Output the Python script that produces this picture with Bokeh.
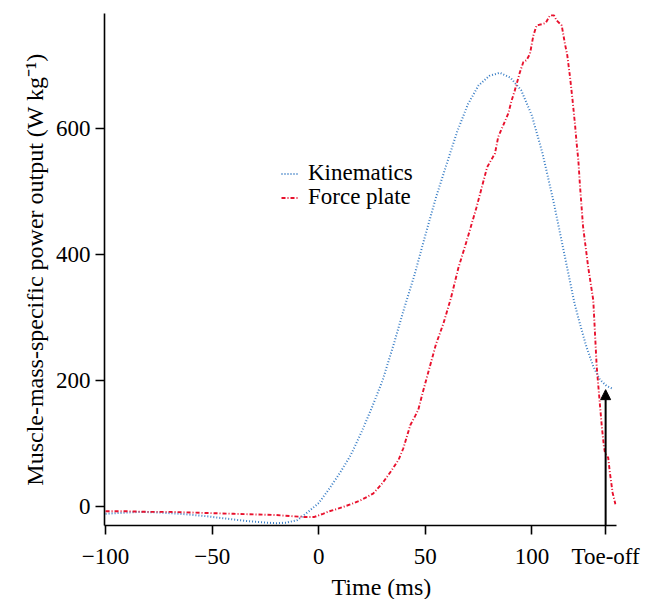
from bokeh.plotting import figure
from bokeh.models import Range1d, FixedTicker, Arrow, NormalHead, Legend, LegendItem, Title
from bokeh.embed import file_html
from bokeh.resources import INLINE

# Kinematics-derived power (time in ms, power in W/kg)
kin_time = [-100, -90, -83, -75, -65, -55, -45, -35, -25, -20, -15, -10, -5, 0,
            5, 10, 15, 20, 25, 30, 35, 40, 45, 50, 55, 60, 65, 70, 75, 80, 85,
            90, 95, 100, 105, 110, 115, 120, 122.5, 125.6, 128.8, 131.9, 135, 138.1]
kin_power = [-12, -10, -9, -10, -12, -15, -19, -23, -26, -27, -26, -22, -9, 5,
             28, 53, 81, 117, 157, 200, 255, 313, 368, 430, 490, 543, 595, 638, 668, 683, 688,
             680, 660, 620, 560, 486, 404, 322, 290, 253, 222, 201, 191, 186]

# Force-plate-derived power
fp_time = [-100, -90, -80, -70, -60, -50, -40, -30, -20, -12, -7, -2, 2, 5, 9, 15, 20,
           25.5, 30, 34, 37.5, 39.7, 41.3, 43, 45.2, 46.7, 49, 52, 55, 58.5, 62, 65.5,
           69.5, 74, 79, 82.7, 84.2, 86.6, 88.9, 90.5, 92, 94.4, 96, 97.5, 99.1, 100.7,
           102.2, 104.6, 106.5, 108.5, 110.4, 111.6, 114, 115.5, 116.6, 117.9, 119.1,
           120.2, 121, 121.8, 122.5, 124, 126.4, 128.8, 129.6, 130.4, 131.2, 132, 132.8,
           133.8, 134.3, 135.8, 136.6, 137.9, 139.2]
fp_power = [-8, -8, -9, -9, -10, -11, -12, -13, -14, -16, -17, -17, -12, -8, -4, 3, 10,
            20, 37, 56, 74, 92, 110, 129, 143, 153, 183, 220, 257, 290, 330, 378,
            422, 474, 538, 560, 586, 605, 623, 644, 660, 689, 705, 708, 718, 747,
            763, 765, 767, 779, 779, 771, 763, 734, 716, 681, 644,
            607, 576, 549, 512, 444, 380, 327, 275, 222, 190, 158, 127,
            95, 85, 77, 53, 21, 3]

series_labels = ["Kinematics", "Force plate"]
x_ticks = [-100, -50, 0, 50, 100]
y_ticks = [0, 200, 400, 600]
toe_off_time = 134.6
toe_off_label = "Toe-off"
toe_off_arrow_top = 185
x_title = "Time (ms)"
y_title = "Muscle-mass-specific power output (W kg\u207b\u00b9)"

FONT = "Liberation Serif"
X_MIN, X_MAX = -100.5, 139.7
Y_MIN, Y_MAX = -30.6, 782

p = figure(width=653, height=599, output_backend="svg", toolbar_location=None,
           x_range=Range1d(X_MIN, X_MAX), y_range=Range1d(Y_MIN, Y_MAX),
           min_border_left=104, min_border_top=13, min_border_right=37, min_border_bottom=73)
p.outline_line_color = None
p.xgrid.grid_line_color = None
p.ygrid.grid_line_color = None
p.background_fill_color = "white"
p.border_fill_color = "white"

r_kin = p.line(kin_time, kin_power, line_color="#3b7fc6", line_width=2, line_dash="1 2")
r_fp = p.line(fp_time, fp_power, line_color="#e8112d", line_width=1.9, line_dash="4 2 1 2")

for ax in (p.xaxis[0], p.yaxis[0]):
    ax.axis_line_width = 1.6
    ax.axis_line_color = "black"
    ax.major_tick_line_width = 1.6
    ax.major_tick_line_color = "black"
    ax.major_tick_out = 9
    ax.major_tick_in = 0
    ax.minor_tick_line_color = None
    ax.major_label_text_font = FONT
    ax.major_label_text_font_size = "23px"
    ax.major_label_text_color = "black"

p.xaxis.ticker = FixedTicker(ticks=x_ticks + [toe_off_time])
p.yaxis.ticker = FixedTicker(ticks=y_ticks)
overrides = {t: str(t).replace("-", "\u2212") for t in x_ticks}
overrides[toe_off_time] = toe_off_label
p.xaxis.major_label_overrides = overrides
p.xaxis.major_label_standoff = 9
p.yaxis.major_label_standoff = 5

# axis titles (placed off-centre along the axis as in the original)
p.add_layout(Title(text=x_title, align="left", offset=227, standoff=0,
                   text_font=FONT, text_font_size="24px", text_font_style="normal",
                   text_color="black"), "below")
p.add_layout(Title(text=y_title, align="center", offset=7, standoff=10,
                   text_font=FONT, text_font_size="24px", text_font_style="normal",
                   text_color="black"), "left")

# one single-item legend per series, stacked tightly as in the original
for renderer, label, loc in ((r_kin, series_labels[0], (177, 339)),
                             (r_fp, series_labels[1], (177, 315))):
    leg = Legend(items=[LegendItem(label=label, renderers=[renderer])], location=loc)
    leg.border_line_color = None
    leg.background_fill_alpha = 0
    leg.margin = 0
    leg.padding = 0
    leg.spacing = 0
    leg.glyph_width = 17
    leg.glyph_height = 21
    leg.label_height = 21
    leg.label_standoff = 10
    leg.label_text_font = FONT
    leg.label_text_font_size = "23px"
    leg.label_text_color = "black"
    p.add_layout(leg)

arrow = Arrow(end=NormalHead(size=10, fill_color="black", line_color="black"),
              x_start=toe_off_time, y_start=Y_MIN,
              x_end=toe_off_time, y_end=toe_off_arrow_top,
              line_width=2, line_color="black")
p.add_layout(arrow)

open("out.html", "w").write(file_html(p, INLINE))
